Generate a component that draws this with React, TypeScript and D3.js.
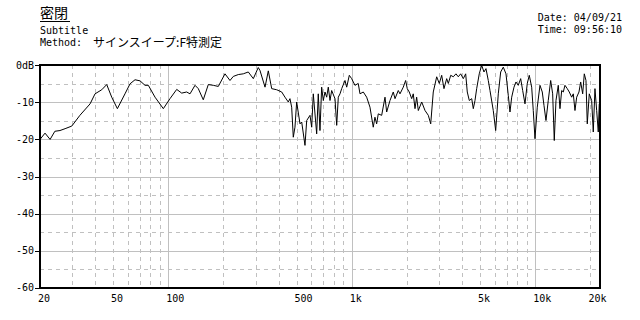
import React from "react";
import * as d3 from "d3";

// ---- data (frequency in Hz, level in dB) ----
const freqHz: number[] = [
  20, 21.3, 22.7, 24.1, 25.7, 27.4, 29.8, 33.0, 37.5, 39.9, 43.4, 46.2, 49.2, 52.8, 58.1, 61.9, 65.9,
  70.2, 74.7, 77.9, 84.7, 94.0, 102.2, 111.2, 118.4, 126.0, 131.4, 139.9, 145.8, 155.2, 165.3, 176.0,
  187.4, 203.8, 217.0, 226.2, 240.8, 256.4, 273.0, 290.8, 309.4,
  316.2, 336.8, 351.0, 366.2, 390.0, 415.2, 432.6, 451.0, 460.6, 470.6, 480.2, 490.4, 501.0, 522.4,
  533.6, 556.2, 568.2, 592.2, 605.0, 617.2, 644.0, 657.0, 671.2, 685.6, 699.8, 714.8, 730.2, 745.0,
  761.2, 777.4, 810.4, 828.0, 844.8, 863.0, 881.6, 918.8, 938.6, 969.8, 999, 1041, 1085, 1109, 1156,
  1206, 1257, 1310, 1338, 1367, 1395, 1456, 1518, 1550, 1616, 1684, 1721, 1793, 1832, 1909, 1967,
  2007, 2058, 2122, 2164, 2212, 2258, 2306, 2406, 2508, 2614, 2694,
  2782, 2904, 3000, 3092, 3182, 3292, 3360, 3462, 3576, 3698, 3808, 3924, 4054, 4178, 4262, 4372,
  4506, 4596, 4696, 4796, 4954, 5106, 5256, 5390, 5548, 5668, 5906, 6088, 6290, 6482, 6698, 6928,
  7130, 7284, 7442, 7660, 7852, 8082, 8330, 8542, 8794, 9050, 9280, 9564, 9758, 9968, 10260, 10614,
  10924, 11160, 11444, 11776, 12138, 12446, 12698, 12972, 13352, 13642, 13936, 14220, 14522, 14950,
  15330, 15800, 16120, 16466, 16822, 17314, 17688, 18138, 18506, 18904, 19214, 19702, 20302, 20716,
  21160, 21618, 22056, 22336,
];
const levelDb: number[] = [
  -20, -18.3, -20, -17.8, -17.6, -17.1, -16.4, -13.5, -10.4, -7.7, -6.6, -5.2, -8.6, -11.7, -7.7, -5,
  -3.9, -4.2, -5.4, -5.4, -8.6, -11.7, -9, -6.5, -7.5, -7.2, -7.7, -5.4, -6.3, -9.3, -5.2, -5.4,
  -5.7, -2.3, -4.1, -3, -2.5, -2.3, -1.8, -3.6, -0.6,
  -1.4, -5.9, -1.5, -6.3, -6.6, -7.2, -8.6, -9.9, -9, -11.3, -19.4, -16.7, -9.9, -15.8,
  -15.3, -21.6, -14.9, -13.5, -16.7, -7.7, -18.5, -7.7, -17.6, -5.9, -9.5, -7.2, -8.6, -5.9,
  -9.5, -6.8, -9, -16.2, -8.6, -7.7, -6.3, -4.1, -5.9, -2.7, -3.6, -5.4, -4.9, -7.7, -7.2,
  -8.6, -11.3, -16.7, -14, -15.8, -13.1, -13.5, -8.6, -12.6, -9.5, -7.2, -9, -6.8, -7.7, -5.9, -4.1,
  -6.3, -7.2, -9, -7.7, -11.7, -8.6, -12.2, -9.9, -12.2, -13.5, -15.8,
  -7.2, -3.1, -4.9, -2.7, -6.3, -3.6, -4.9, -2.7, -3.1, -2.3, -3.1, -2.3, -3.6, -2.3, -7.2, -9.5,
  -9, -11.7, -9.5, -6.3, -2.3, 0, -1.8, -0.9, -4.1, -6.8, -12.2, -17.6, -7.7, -1.8, -0.5, -2.3,
  -8.1, -12.6, -8.6, -5.9, -4.5, -5.4, -3.6, -6.8, -10.4, -4.9, -2.7, -5.9, -12.2, -19.8, -11.3, -5.4,
  -7.2, -10.8, -14.9, -9.5, -4.1, -7.7, -20.3, -9.5, -5.4, -11.7, -6.8, -7.2, -5.4, -6.3,
  -7.2, -8.6, -7.7, -12.2, -8.6, -7.2, -4.5, -7.7, -2.3, -4.1, -15.8, -7.7, -9.5, -18,
  -6.3, -12.2, -18, -10.4,
];

const xTickValues: number[] = [20, 50, 100, 500, 1000, 5000, 10000, 20000];
const xTickLabels: string[] = ["20", "50", "100", "500", "1k", "5k", "10k", "20k"];
const yTickValues: number[] = [0, -10, -20, -30, -40, -50, -60];
const yTickLabels: string[] = ["0dB", "-10", "-20", "-30", "-40", "-50", "-60"];
const yMinorValues: number[] = [-5, -15, -25, -35, -45, -55];

const titleText = "密閉";
const subtitleText = "Subtitle";
const methodLabel = "Method:";
const methodText = "サインスイープ:F特測定";
const dateText = "Date: 04/09/21";
const timeText = "Time: 09:56:10";

const FREQ_MIN = 20;
const FREQ_MAX = 22400;

export default function App() {
  const W = 640;
  const H = 320;
  const left = 40;
  const right = 599.5;
  const top = 65.3;
  const bottom = 287.7;

  const x = d3.scaleLog().domain([FREQ_MIN, FREQ_MAX]).range([left, right]);
  const y = d3.scaleLinear().domain([-60, 0]).range([bottom, top]);

  const allLogTicks = x.ticks().filter((t) => t > FREQ_MIN && t < FREQ_MAX);
  const isDecade = (t: number) => Math.abs(Math.log10(t) - Math.round(Math.log10(t))) < 1e-9;
  const majorX = allLogTicks.filter(isDecade);
  const minorX = allLogTicks.filter((t) => !isDecade(t));

  const line = d3
    .line<number>()
    .x((_, i) => x(freqHz[i]))
    .y((d) => y(d));

  const mono = "'DejaVu Sans Mono', 'Liberation Mono', monospace";
  const cjk = "'Noto Sans CJK JP', sans-serif";
  const grid = "#c0c0c0";

  return (
    <svg
      width={W}
      height={H}
      style={{ position: "absolute", left: 0, top: 0, background: "#fff" }}
      shapeRendering="crispEdges"
    >
      <rect x={0} y={0} width={W} height={H} fill="#fff" />
      {/* header */}
      <text x={40} y={18} fontFamily={cjk} fontSize={14} fill="#000">
        {titleText}
      </text>
      <line x1={40} x2={70} y1={21} y2={21} stroke="#000" strokeWidth={1} />
      <text x={40} y={34} fontFamily={mono} fontSize={10} fill="#000">
        {subtitleText}
      </text>
      <text x={40} y={46} fontFamily={mono} fontSize={10} fill="#000">
        {methodLabel}
      </text>
      <text x={93} y={46.5} fontFamily={cjk} fontSize={12} fill="#000">
        {methodText}
      </text>
      <text x={622} y={21} fontFamily={mono} fontSize={10} fill="#000" textAnchor="end">
        {dateText}
      </text>
      <text x={622} y={33} fontFamily={mono} fontSize={10} fill="#000" textAnchor="end">
        {timeText}
      </text>

      {/* grid */}
      {yMinorValues.map((v) => (
        <line key={"ym" + v} x1={left} x2={right} y1={Math.round(y(v)) + 0.5} y2={Math.round(y(v)) + 0.5}
          stroke={grid} strokeDasharray="4,4" />
      ))}
      {yTickValues.filter((v) => v !== 0 && v !== -60).map((v) => (
        <line key={"yM" + v} x1={left} x2={right} y1={Math.round(y(v)) + 0.5} y2={Math.round(y(v)) + 0.5}
          stroke={grid} />
      ))}
      {minorX.map((f) => (
        <line key={"xm" + f} x1={Math.round(x(f)) + 0.5} x2={Math.round(x(f)) + 0.5} y1={top} y2={bottom}
          stroke={grid} strokeDasharray="4,4" />
      ))}
      {majorX.map((f) => (
        <line key={"xM" + f} x1={Math.round(x(f)) + 0.5} x2={Math.round(x(f)) + 0.5} y1={top} y2={bottom}
          stroke={grid} />
      ))}

      {/* curve */}
      <defs>
        <clipPath id="plotClip">
          <rect x={left} y={top} width={right - left} height={bottom - top} />
        </clipPath>
      </defs>
      <path d={line(levelDb) || ""} fill="none" stroke="#000" strokeWidth={1}
        clipPath="url(#plotClip)" shapeRendering="auto" />

      {/* frame */}
      <rect x={left} y={top} width={right - left} height={bottom - top} fill="none" stroke="#000" strokeWidth={2} />

      {/* y ticks */}
      {yTickValues.map((v, i) => (
        <g key={"yt" + v}>
          <line x1={35} x2={left} y1={Math.round(y(v)) + 0.5} y2={Math.round(y(v)) + 0.5} stroke="#000" />
          <text x={34} y={y(v) + 3.5} fontFamily={mono} fontSize={10} textAnchor="end" fill="#000">
            {yTickLabels[i]}
          </text>
        </g>
      ))}
      {/* x ticks */}
      {xTickValues.map((f, i) => (
        <text key={"xt" + f} x={x(f) - 2} y={301.5} fontFamily={mono} fontSize={10} fill="#000">
          {xTickLabels[i]}
        </text>
      ))}
    </svg>
  );
}
